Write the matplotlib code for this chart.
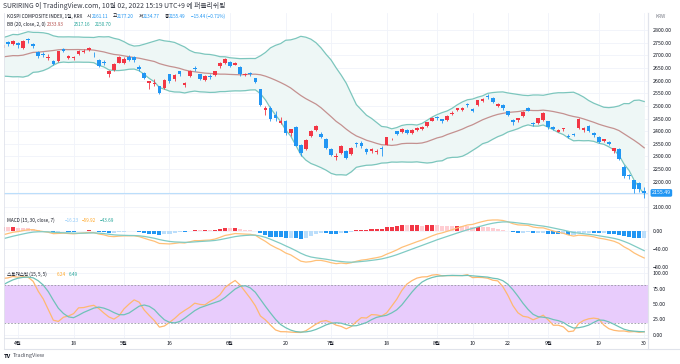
import numpy as np
import pandas as pd
import matplotlib
matplotlib.use("Agg")
import matplotlib.pyplot as plt
from matplotlib.transforms import blended_transform_factory

plt.rcParams['font.family'] = ['Noto Sans CJK KR', 'DejaVu Sans']

# ---------------- data ----------------
# warm-up history (2022-01-03 .. 2022-03-28), only used for indicator start values
warm_holidays = ['2022-01-31', '2022-02-01', '2022-02-02', '2022-03-01', '2022-03-09']
warm_high = [2995, 2995, 2990, 2940, 2960, 2950, 2935, 2975, 2980, 2950,
             2925, 2895, 2855, 2865, 2850, 2830, 2790, 2735, 2700, 2670,
             2718, 2755, 2760, 2752, 2770, 2780, 2760, 2720, 2710, 2730,
             2750, 2755, 2760, 2725, 2725, 2700, 2690, 2705,
             2715, 2750, 2730, 2690, 2650, 2690, 2670, 2665, 2640, 2665,
             2700, 2712, 2706, 2720, 2740, 2738, 2738, 2735]
warm_low = [2965, 2960, 2950, 2910, 2925, 2920, 2905, 2940, 2955, 2915,
            2885, 2860, 2830, 2840, 2825, 2790, 2710, 2695, 2610, 2591,
            2680, 2700, 2726, 2725, 2745, 2755, 2738, 2696, 2660, 2700,
            2730, 2727, 2730, 2690, 2705, 2645, 2660, 2665,
            2690, 2720, 2700, 2645, 2610, 2660, 2640, 2630, 2610, 2630,
            2680, 2688, 2680, 2690, 2720, 2720, 2718, 2715]
warm_close = [2988.77, 2989.24, 2953.97, 2920.53, 2954.89, 2926.72, 2927.38, 2972.48, 2962.09, 2921.92,
              2890.10, 2864.24, 2842.28, 2862.68, 2834.29, 2792.00, 2720.39, 2709.24, 2614.49, 2663.34,
              2707.82, 2750.26, 2745.05, 2741.07, 2768.85, 2771.93, 2747.71, 2704.48, 2676.54, 2729.68,
              2744.52, 2744.09, 2743.80, 2706.79, 2719.53, 2648.80, 2676.76, 2699.18,
              2703.52, 2747.08, 2713.43, 2651.31, 2622.40, 2680.32, 2661.28, 2645.65, 2621.53, 2659.23,
              2694.51, 2707.62, 2686.05, 2717.33, 2736.10, 2729.98, 2729.66, 2729.56]

# visible daily candles 2022-03-29 .. 2022-09-30 (KOSPI)
holidays = ['2022-05-05', '2022-06-01', '2022-06-06', '2022-08-15', '2022-09-09', '2022-09-12']
open_ = [2729, 2752, 2745, 2748, 2731, 2766, 2744, 2715, 2705, 2688, 2676, 2677, 2724, 2690, 2689,
         2706, 2714, 2722, 2706, 2683, 2672, 2627, 2641, 2670,
         2670, 2694, 2692, 2655, 2632, 2590, 2588, 2577, 2570, 2625, 2606, 2637, 2582, 2618, 2649,
         2625, 2604, 2620, 2622, 2656, 2671,
         2672, 2663, 2654, 2622, 2630, 2610, 2567, 2483, 2490, 2465, 2434, 2441, 2394, 2415, 2344,
         2328, 2380, 2405, 2390, 2370,
         2330, 2296, 2315, 2322, 2308, 2354, 2355, 2330, 2320, 2318, 2335, 2345, 2367, 2400, 2397,
         2405, 2393, 2406, 2410, 2422, 2442,
         2455, 2447, 2444, 2468, 2482, 2484, 2505, 2488, 2502, 2518, 2540, 2532, 2498, 2504, 2478,
         2444, 2444, 2458, 2490, 2432, 2433, 2446,
         2440, 2416, 2397, 2408, 2380, 2386, 2412, 2404, 2420, 2393, 2375, 2360, 2356, 2320, 2330,
         2260, 2227, 2205, 2195, 2161.11]
high = [2745, 2755, 2762, 2752, 2760, 2770, 2748, 2718, 2712, 2705, 2680, 2718, 2730, 2702, 2698,
        2722, 2725, 2735, 2712, 2686, 2680, 2641, 2671, 2698,
        2692, 2700, 2696, 2660, 2636, 2600, 2605, 2580, 2608, 2628, 2625, 2640, 2596, 2642, 2658,
        2628, 2622, 2628, 2640, 2672, 2690,
        2676, 2675, 2658, 2632, 2636, 2612, 2568, 2498, 2500, 2480, 2455, 2443, 2410, 2420, 2350,
        2370, 2405, 2425, 2395, 2372,
        2335, 2312, 2345, 2325, 2337, 2356, 2360, 2335, 2335, 2330, 2340, 2378, 2373, 2402, 2413,
        2408, 2408, 2415, 2420, 2437, 2455,
        2458, 2449, 2463, 2478, 2493, 2497, 2510, 2492, 2525, 2532, 2546, 2536, 2512, 2508, 2480,
        2448, 2452, 2478, 2496, 2435, 2452, 2474,
        2442, 2420, 2409, 2413, 2388, 2392, 2452, 2415, 2425, 2396, 2380, 2370, 2362, 2335, 2332,
        2265, 2230, 2208, 2200, 2177.20]
low = [2722, 2737, 2740, 2730, 2727, 2750, 2730, 2690, 2694, 2683, 2660, 2675, 2712, 2685, 2682,
       2700, 2710, 2718, 2695, 2652, 2660, 2613, 2638, 2668,
       2665, 2678, 2674, 2638, 2606, 2568, 2580, 2546, 2566, 2592, 2600, 2620, 2575, 2615, 2640,
       2602, 2600, 2608, 2618, 2650, 2665,
       2652, 2660, 2620, 2618, 2618, 2590, 2500, 2465, 2440, 2440, 2430, 2385, 2380, 2340, 2300,
       2325, 2375, 2400, 2372, 2328,
       2300, 2285, 2310, 2288, 2305, 2338, 2335, 2310, 2315, 2310, 2300, 2344, 2365, 2383, 2392,
       2390, 2390, 2400, 2405, 2418, 2440,
       2445, 2432, 2440, 2462, 2478, 2480, 2495, 2475, 2500, 2514, 2528, 2512, 2495, 2485, 2458,
       2426, 2438, 2455, 2478, 2420, 2430, 2442,
       2410, 2405, 2395, 2400, 2372, 2380, 2410, 2397, 2398, 2378, 2352, 2358, 2344, 2315, 2285,
       2214, 2210, 2155, 2160, 2134.77]
close = [2741.07, 2746.74, 2757.65, 2739.85, 2757.90, 2759.20, 2735.03, 2695.86, 2700.39, 2693.10,
         2666.76, 2716.49, 2716.71, 2696.06, 2693.21, 2718.69, 2718.89, 2728.21, 2704.71, 2657.13,
         2668.31, 2639.06, 2667.49, 2695.05,
         2687.45, 2680.46, 2680.41, 2644.51, 2610.81, 2596.56, 2592.27, 2550.08, 2604.24, 2596.58,
         2620.44, 2625.98, 2592.34, 2639.29, 2647.38, 2605.87, 2617.22, 2612.45, 2638.05, 2669.66,
         2685.90,
         2658.99, 2670.65, 2626.15, 2626.44, 2625.44, 2595.87, 2504.51, 2492.97, 2447.38, 2451.41,
         2440.93, 2391.03, 2408.93, 2342.81, 2314.32, 2366.60, 2401.92, 2422.09, 2377.99, 2332.64,
         2305.42, 2300.34, 2341.78, 2292.01, 2334.27, 2350.61, 2340.27, 2317.76, 2328.61, 2322.32,
         2330.98, 2375.25, 2370.52, 2386.85, 2409.16, 2393.14, 2403.69, 2412.92, 2415.53, 2435.27,
         2451.50,
         2452.25, 2439.62, 2461.45, 2473.11, 2490.80, 2493.10, 2503.46, 2480.88, 2523.78, 2527.94,
         2533.52, 2516.47, 2508.05, 2492.69, 2462.50, 2435.34, 2450.93, 2477.26, 2481.03, 2426.89,
         2450.93, 2472.05,
         2415.61, 2409.41, 2403.68, 2410.02, 2376.46, 2384.28, 2449.54, 2411.42, 2401.83, 2382.78,
         2355.66, 2367.85, 2347.21, 2332.31, 2290.00, 2220.94, 2223.86, 2169.29, 2170.93, 2155.49]

tick_dates = ['2022-04-01', '2022-04-18', '2022-05-02', '2022-05-16', '2022-06-02', '2022-06-20',
              '2022-07-01', '2022-07-18', '2022-08-01', '2022-08-10', '2022-08-22', '2022-09-01',
              '2022-09-19', '2022-09-30']
tick_labels = ['4월', '18', '5월', '16', '6월', '20', '7월', '18', '8월', '10', '22', '9월', '19', '30']
price_ticks = list(range(2100, 2801, 50))
macd_ticks = [0, -40, -80]
stoch_ticks = [0, 25, 50, 75, 100]
last_price = 2155.49

# ---------------- indicators (computed from the series) ----------------
warm_dates = pd.bdate_range('2022-01-03', '2022-03-28')
warm_dates = warm_dates[~warm_dates.isin(pd.to_datetime(warm_holidays))]
dates = pd.bdate_range('2022-03-29', '2022-09-30')
dates = dates[~dates.isin(pd.to_datetime(holidays))]
n_w = len(warm_dates)

C = pd.Series(warm_close + close)
Hh = pd.Series(warm_high + high)
Ll = pd.Series(warm_low + low)

basis = C.rolling(20).mean()
dev = C.rolling(20).std(ddof=0)
upper = basis + 2 * dev
lower = basis - 2 * dev

macd = C.ewm(span=15, adjust=False).mean() - C.ewm(span=30, adjust=False).mean()
signal = macd.ewm(span=7, adjust=False).mean()
hist = macd - signal

raw = 100 * (C - Ll.rolling(15).min()) / (Hh.rolling(15).max() - Ll.rolling(15).min())
k = raw.rolling(5).mean()
d = k.rolling(5).mean()

sl = slice(n_w, None)
basis, upper, lower = basis[sl].values, upper[sl].values, lower[sl].values
macd, signal, hist = macd[sl].values, signal[sl].values, hist[sl].values
k, d = k[sl].values, d[sl].values

o = np.array(open_, float); h = np.array(high, float); l = np.array(low, float); c = np.array(close, float)
x = np.arange(len(c))
pos = {dt.strftime('%Y-%m-%d'): i for i, dt in enumerate(dates)}
tick_x = [pos[t] for t in tick_dates]

# ---------------- figure ----------------
W, H = 680, 364
fig = plt.figure(figsize=(W / 100, H / 100), dpi=100)
fig.patch.set_facecolor('white')

def rect(x0, y0, x1, y1):
    return [x0 / W, 1 - y1 / H, (x1 - x0) / W, (y1 - y0) / H]

LEFT, RIGHT = 4, 648
ax_p = fig.add_axes(rect(LEFT, 13, RIGHT, 213))
ax_m = fig.add_axes(rect(LEFT, 213, RIGHT, 268))
ax_s = fig.add_axes(rect(LEFT, 268, RIGHT, 338))

UP, DN = '#F23645', '#2196F3'
GRID = '#F0F3FA'
SEP = '#E0E3EB'
TXT = '#131722'
FS = 3.8

xlim = (0.23, 127.75)
for ax in (ax_p, ax_m, ax_s):
    ax.set_xlim(*xlim)
    ax.set_facecolor('white')
    for s in ('top', 'left'):
        ax.spines[s].set_visible(False)
    ax.spines['right'].set_color(SEP)
    ax.spines['bottom'].set_color(SEP)
    ax.spines['right'].set_linewidth(0.8)
    ax.spines['bottom'].set_linewidth(0.8)
    ax.yaxis.tick_right()
    ax.tick_params(axis='y', length=0, pad=3.5, labelsize=FS, labelcolor=TXT)
    ax.tick_params(axis='x', length=0, labelbottom=False)
    ax.set_xticks(tick_x)
    ax.grid(True, color=GRID, lw=0.6)
    ax.set_axisbelow(True)

# price pane
ax_p.set_ylim(2076.0, 2867.6)
ax_p.set_yticks(price_ticks)
# the 2150 label sits under the last-price box, as in the reference
ax_p.set_yticklabels(['' if v == 2150 else f'{v:.2f}' for v in price_ticks])
ax_p.fill_between(x, lower, upper, color='#EEF7F6', lw=0, zorder=1)
ax_p.plot(x, upper, color='#7CC6BD', lw=0.9, zorder=2)
ax_p.plot(x, lower, color='#7CC6BD', lw=0.9, zorder=2)
ax_p.plot(x, basis, color='#C49190', lw=0.9, zorder=2)
ax_p.axhline(last_price, color='#BBDEFB', lw=0.8, zorder=2)
cols = np.where(c >= o, UP, DN)
ax_p.vlines(x, l, h, colors=cols, lw=0.6, zorder=3)
body_lo = np.minimum(o, c)
body_h = np.maximum(np.abs(c - o), 2.5)
ax_p.bar(x, body_h, bottom=body_lo, width=0.72, color=cols, lw=0, zorder=4)
tr = blended_transform_factory(ax_p.transAxes, ax_p.transData)
ax_p.text(1.006, last_price, '2155.49', transform=tr, ha='left', va='center', fontsize=FS,
          color='white', zorder=10, clip_on=False,
          bbox=dict(boxstyle='round,pad=0.25,rounding_size=0.3', fc=DN, ec='none'))

# MACD pane
ax_m.set_ylim(-82.2, 40)
ax_m.set_yticks(macd_ticks)
ax_m.set_yticklabels(['0.00', '−40.00', '−80.00'])
hp = np.concatenate([[hist[0]], hist[:-1]])
hcol = np.where(hist >= 0, np.where(hist >= hp, '#F23645', '#FFCDD2'),
                np.where(hist < hp, '#2196F3', '#BBDEFB'))
ax_m.bar(x, hist, width=0.8, color=hcol, lw=0, zorder=2)
ax_m.plot(x, macd, color='#FFC078', lw=0.9, zorder=3)
ax_m.plot(x, signal, color='#80CBC4', lw=0.9, zorder=3)

# Stochastic pane
ax_s.set_ylim(-4.9, 108.2)
ax_s.set_yticks(stoch_ticks)
ax_s.set_yticklabels([f'{v:.2f}' for v in stoch_ticks])
ax_s.axhspan(20, 80, color='#E8CCFC', lw=0, zorder=1)
for lv in (20, 80):
    ax_s.axhline(lv, color='#9598A1', lw=0.6, ls=(0, (2, 2)), zorder=2)
ax_s.plot(x, k, color='#FFB870', lw=0.9, zorder=3)
ax_s.plot(x, d, color='#6FC2B8', lw=0.9, zorder=3)
ax_s.tick_params(axis='x', labelbottom=True, pad=2.5, labelsize=FS, labelcolor=TXT)
ax_s.set_xticklabels(tick_labels)

# frame lines
fig.add_artist(plt.Line2D([RIGHT / W, RIGHT / W], [1 - 349 / H, 1 - 13 / H], color=SEP, lw=0.8))
fig.add_artist(plt.Line2D([LEFT / W, 1], [1 - 349 / H, 1 - 349 / H], color=SEP, lw=0.8))
fig.add_artist(plt.Line2D([LEFT / W, LEFT / W], [1 - 349 / H, 1 - 13 / H], color=SEP, lw=0.6))

# ---------------- texts ----------------
def ftext(px, py, s, color=TXT, size=FS, **kw):
    fig.text(px / W, 1 - py / H, s, color=color, fontsize=size, ha='left', va='center', **kw)

HS = 3.35
ftext(3, 6.5, 'SURIRING 이 TradingView.com, 10월 02, 2022 15:19 UTC+9 에 퍼블리쉬됨', color='#363A45', size=4.9)
ftext(7, 16, 'KOSPI COMPOSITE INDEX, 1일, KRX', size=HS)
ftext(87, 16, '시', size=HS); ftext(92, 16, '2161.11', color=DN, size=HS)
ftext(113, 16, '고', size=HS); ftext(117, 16, '2177.20', color=DN, size=HS)
ftext(139, 16, '저', size=HS); ftext(143, 16, '2134.77', color=DN, size=HS)
ftext(165, 16, '종', size=HS); ftext(169, 16, '2155.49', color=DN, size=HS)
ftext(191, 16, '−15.44 (−0.71%)', color=DN, size=HS)
ftext(7, 24.5, 'BB (20, close, 2, 0)', size=HS)
ftext(47, 24.5, '2333.93', color='#B5514E', size=HS)
ftext(74, 24.5, '2517.16', color='#26A69A', size=HS)
ftext(95, 24.5, '2150.70', color='#26A69A', size=HS)
ftext(655, 16, 'KRW', color='#787B86', size=3.4)

ftext(7, 220.5, 'MACD (15, 30, close, 7)', size=HS)
ftext(65, 220.5, '−16.23', color='#90CAF9', size=HS)
ftext(82, 220.5, '−59.92', color='#FFA726', size=HS)
ftext(100, 220.5, '−43.69', color='#26A69A', size=HS)

ftext(7, 274.5, '스토캐스틱 (15, 5, 5)', size=HS)
ftext(57, 274.5, '6.24', color='#FFA726', size=HS)
ftext(69, 274.5, '6.49', color='#26A69A', size=HS)

ftext(4, 356, 'TV', color=TXT, size=4.2, fontweight='bold')
ftext(13, 356, 'TradingView', color='#50535E', size=4.0)

fig.savefig('out.png', dpi=100, facecolor='white')
